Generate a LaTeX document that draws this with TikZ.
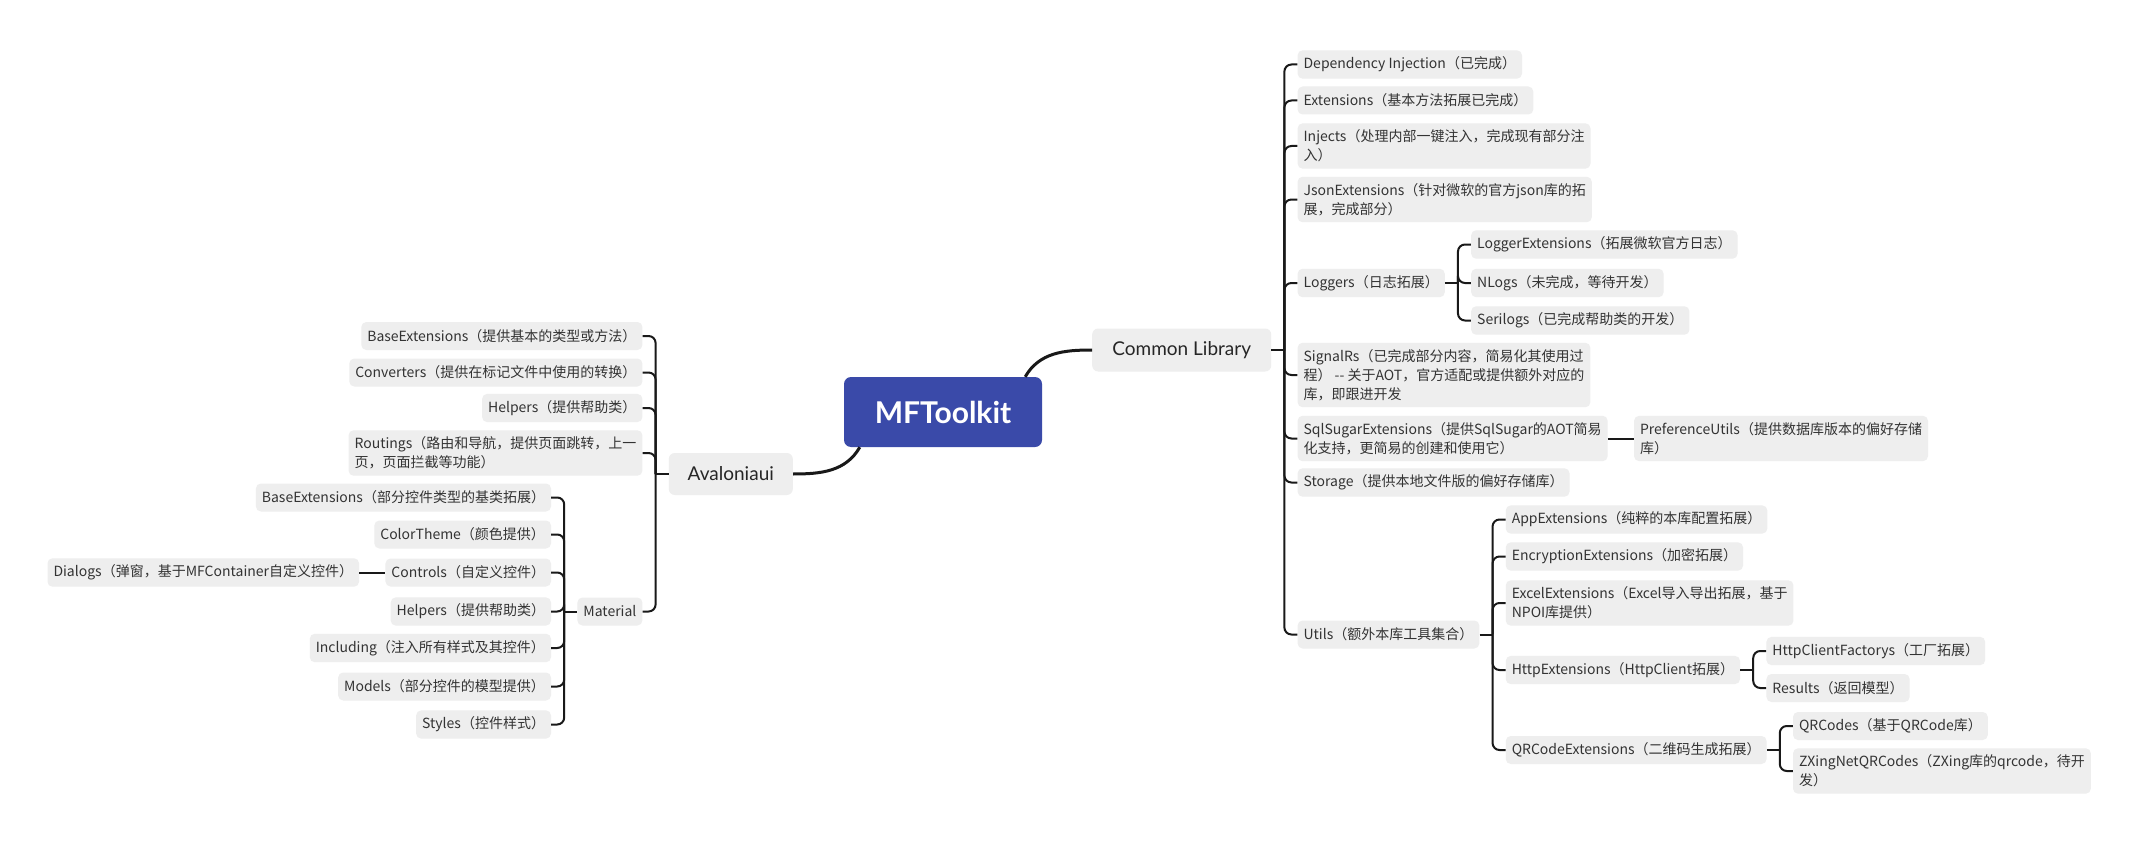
\documentclass[tikz,border=0pt]{standalone}
\usepackage{fontspec}
\usepackage{tikz}
\usepackage{xcolor}

\setmainfont{Noto Sans CJK SC}
\newfontfamily\topicfont{Lato}

\definecolor{mfblue}{HTML}{3A4AA9}
\definecolor{boxgray}{HTML}{EEEEEE}
\definecolor{inkgray}{HTML}{333333}

\begin{document}
\begin{tikzpicture}[x=1pt, y=-1pt,
        leaf/.style={fill=boxgray, text=inkgray, rounded corners=5pt, align=left,
            inner xsep=6pt, inner ysep=6.5pt, minimum height=28pt,
            font=\fontsize{14}{19}\selectfont},
        topic/.style={fill=boxgray, text=black!85, rounded corners=6pt, inner xsep=18pt,
            minimum height=43pt, font=\topicfont\fontsize{19}{23}\selectfont},
        link/.style={line width=2pt, black!90, rounded corners=7pt},
        mainlink/.style={line width=3pt, black!90}]

        \fill[white] (0,0) rectangle (2148,848);
        \useasboundingbox (0,0) rectangle (2148,848);

        % Root
        \node[fill=mfblue, text=white, rounded corners=7pt, minimum width=198pt, minimum height=70pt,
            font=\topicfont\bfseries\fontsize{30}{36}\selectfont] (mf) at (943,412) {MFToolkit};

        % Common Library
        \node[topic, anchor=west, minimum width=179pt] (cl) at (1092,350) {Common Library};
        \coordinate (cl-j) at ([xshift=13pt]cl.east);
        \coordinate (cl-c) at ([xshift=26pt]cl.east);

        \node[leaf, anchor=west] (dep) at (cl-c |- 0,64.5) {Dependency Injection（已完成）};
        \node[leaf, anchor=west] (ext) at (cl-c |- 0,100.5) {Extensions（基本方法拓展已完成）};
        \node[leaf, anchor=west] (inj) at (cl-c |- 0,146) {Injects（处理内部一键注入，完成现有部分注\\入）};
        \node[leaf, anchor=west] (json) at (cl-c |- 0,199.5) {JsonExtensions（针对微软的官方json库的拓\\展，完成部分）};
        \node[leaf, anchor=west] (log) at (cl-c |- 0,283) {Loggers（日志拓展）};
        \node[leaf, anchor=west] (sig) at (cl-c |- 0,375) {SignalRs（已完成部分内容，简易化其使用过\\程） {-}{-} 关于AOT，官方适配或提供额外对应的\\库，即跟进开发};
        \node[leaf, anchor=west] (sql) at (cl-c |- 0,438.5) {SqlSugarExtensions（提供SqlSugar的AOT简易\\化支持，更简易的创建和使用它）};
        \node[leaf, anchor=west] (sto) at (cl-c |- 0,482.5) {Storage（提供本地文件版的偏好存储库）};
        \node[leaf, anchor=west] (uti) at (cl-c |- 0,634.5) {Utils（额外本库工具集合）};

        % Loggers
        \coordinate (log-j) at ([xshift=13pt]log.east);
        \coordinate (log-c) at ([xshift=26pt]log.east);
        \node[leaf, anchor=west] (lgext) at (log-c |- 0,244.5) {LoggerExtensions（拓展微软官方日志）};
        \node[leaf, anchor=west] (nlog) at (log-c |- 0,283) {NLogs（未完成，等待开发）};
        \node[leaf, anchor=west] (seri) at (log-c |- 0,320.5) {Serilogs（已完成帮助类的开发）};

        % SqlSugar
        \node[leaf, anchor=west] (pref) at ([xshift=26pt]sql.east) {PreferenceUtils（提供数据库版本的偏好存储\\库）};

        % Utils
        \coordinate (uti-j) at ([xshift=13pt]uti.east);
        \coordinate (uti-c) at ([xshift=26pt]uti.east);
        \node[leaf, anchor=west] (app) at (uti-c |- 0,519.5) {AppExtensions（纯粹的本库配置拓展）};
        \node[leaf, anchor=west] (enc) at (uti-c |- 0,556.5) {EncryptionExtensions（加密拓展）};
        \node[leaf, anchor=west] (excel) at (uti-c |- 0,603) {ExcelExtensions（Excel导入导出拓展，基于\\NPOI库提供）};
        \node[leaf, anchor=west] (http) at (uti-c |- 0,670) {HttpExtensions（HttpClient拓展）};
        \node[leaf, anchor=west] (qr) at (uti-c |- 0,750) {QRCodeExtensions（二维码生成拓展）};

        \coordinate (http-j) at ([xshift=13pt]http.east);
        \coordinate (http-c) at ([xshift=26pt]http.east);
        \node[leaf, anchor=west] (hcf) at (http-c |- 0,651) {HttpClientFactorys（工厂拓展）};
        \node[leaf, anchor=west] (res) at (http-c |- 0,688) {Results（返回模型）};

        \coordinate (qr-j) at ([xshift=13pt]qr.east);
        \coordinate (qr-c) at ([xshift=26pt]qr.east);
        \node[leaf, anchor=west] (qrc) at (qr-c |- 0,726) {QRCodes（基于QRCode库）};
        \node[leaf, anchor=west] (zx) at (qr-c |- 0,771) {ZXingNetQRCodes（ZXing库的qrcode，待开\\发）};

        % Avaloniaui
        \node[topic, anchor=east, minimum height=42pt, minimum width=124pt] (ava) at (793,474) {Avaloniaui};
        \coordinate (ava-j) at ([xshift=-13pt]ava.west);
        \coordinate (ava-c) at ([xshift=-26pt]ava.west);

        \node[leaf, anchor=east] (abex) at (ava-c |- 0,336) {BaseExtensions（提供基本的类型或方法）};
        \node[leaf, anchor=east] (conv) at (ava-c |- 0,372.5) {Converters（提供在标记文件中使用的转换）};
        \node[leaf, anchor=east] (ahelp) at (ava-c |- 0,408) {Helpers（提供帮助类）};
        \node[leaf, anchor=east] (rout) at (ava-c |- 0,453) {Routings（路由和导航，提供页面跳转，上一\\页，页面拦截等功能）};
        \node[leaf, anchor=east] (mat) at (ava-c |- 0,611.5) {Material};

        % Material
        \coordinate (mat-j) at ([xshift=-13pt]mat.west);
        \coordinate (mat-c) at ([xshift=-26pt]mat.west);
        \node[leaf, anchor=east] (mbex) at (mat-c |- 0,497.5) {BaseExtensions（部分控件类型的基类拓展）};
        \node[leaf, anchor=east] (ctheme) at (mat-c |- 0,534.5) {ColorTheme（颜色提供）};
        \node[leaf, anchor=east] (ctrl) at (mat-c |- 0,572.5) {Controls（自定义控件）};
        \node[leaf, anchor=east] (mhelp) at (mat-c |- 0,611.5) {Helpers（提供帮助类）};
        \node[leaf, anchor=east] (incl) at (mat-c |- 0,648) {Including（注入所有样式及其控件）};
        \node[leaf, anchor=east] (models) at (mat-c |- 0,686.5) {Models（部分控件的模型提供）};
        \node[leaf, anchor=east] (styles) at (mat-c |- 0,724.5) {Styles（控件样式）};

        \node[leaf, anchor=east] (dlg) at ([xshift=-26pt]ctrl.west) {Dialogs（弹窗，基于MFContainer自定义控件）};

        % Connectors
        \draw[mainlink] ([xshift=-17pt]mf.north east) to[out=60, in=180] (cl.west);
        \draw[mainlink] ([xshift=16pt]mf.south west) to[out=-120, in=0] (ava.east);

        \draw[link] (cl.east) -- (cl-j);
        \foreach \c in {dep,ext,inj,json,log,sig,sql,sto,uti}
            \draw[link] (cl-j) |- (\c.west);

        \draw[link] (log.east) -- (log-j);
        \foreach \c in {lgext,nlog,seri}
            \draw[link] (log-j) |- (\c.west);

        \draw[link] (sql.east) -- (pref.west);

        \draw[link] (uti.east) -- (uti-j);
        \foreach \c in {app,enc,excel,http,qr}
            \draw[link] (uti-j) |- (\c.west);

        \draw[link] (http.east) -- (http-j);
        \foreach \c in {hcf,res}
            \draw[link] (http-j) |- (\c.west);

        \draw[link] (qr.east) -- (qr-j);
        \foreach \c in {qrc,zx}
            \draw[link] (qr-j) |- (\c.west);

        \draw[link] (ava.west) -- (ava-j);
        \foreach \c in {abex,conv,ahelp,rout,mat}
            \draw[link] (ava-j) |- (\c.east);

        \draw[link] (mat.west) -- (mat-j);
        \foreach \c in {mbex,ctheme,ctrl,mhelp,incl,models,styles}
            \draw[link] (mat-j) |- (\c.east);

        \draw[link] (dlg.east) -- (ctrl.west);
    \end{tikzpicture}
\end{document}
